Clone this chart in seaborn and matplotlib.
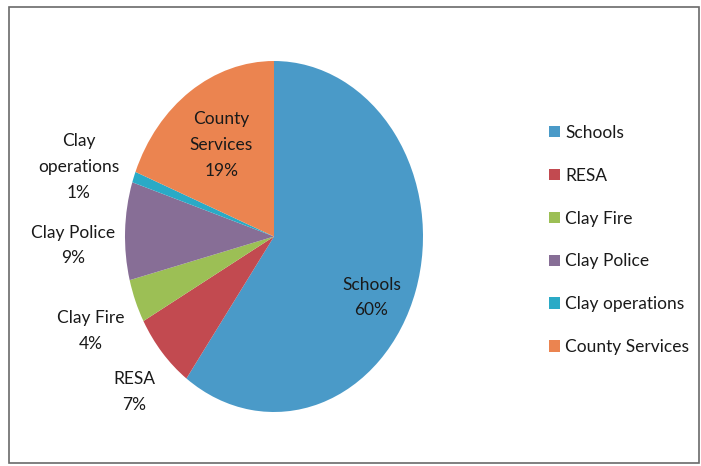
import matplotlib.pyplot as plt
import matplotlib.patches as mpatches
import seaborn as sns
import numpy as np

# data
categories = ["Schools", "RESA", "Clay Fire", "Clay Police", "Clay operations", "County Services"]
shares = [60, 7, 4, 9, 1, 19]
label_texts = ["Schools\n60%", "RESA\n7%", "Clay Fire\n4%", "Clay Police\n9%",
               "Clay\noperations\n1%", "County\nServices\n19%"]
colors = ["#4A9AC8", "#C24A50", "#9CBF55", "#876E96", "#2AAAC6", "#EB8450"]

sns.set_theme(style="white")
plt.rcParams["font.family"] = ["Lato", "DejaVu Sans"]

fig = plt.figure(figsize=(7.01, 4.66), dpi=100)
W, H = 701, 466

# outer chart frame
fig.patches.append(mpatches.Rectangle((9 / W, 3 / H), 690 / W, 456 / H,
                                      transform=fig.transFigure, fill=False,
                                      edgecolor="#6a6a6a", linewidth=1.2))

# pie is slightly squashed horizontally in the scan
ax = fig.add_axes([125 / W, (H - 412) / H, 298 / W, 351 / H])
wedges, _ = ax.pie(shares, colors=sns.color_palette(colors), startangle=90,
                   counterclock=False, wedgeprops=dict(linewidth=0))
ax.set_aspect("auto")
ax.set_xlim(-1, 1)
ax.set_ylim(-1, 1)

# label placement along each wedge's middle angle
dist = [0.74, 1.29, 1.34, 1.35, 1.37, 0.63]
tweak = [-10, 2, 2, 4, 3, 0]
for w, txt, d, t in zip(wedges, label_texts, dist, tweak):
    ang = np.deg2rad((w.theta1 + w.theta2) / 2 + t)
    ax.text(d * np.cos(ang), d * np.sin(ang), txt, ha="center", va="center",
            fontsize=12.5, color="#1a1a1a", linespacing=1.75)

leg = fig.legend(wedges, categories, loc="center left",
                 bbox_to_anchor=(549 / W, (H - 240) / H), frameon=False,
                 fontsize=12.5, handlelength=0.65, handleheight=0.65,
                 handletextpad=0.3, labelspacing=1.55, borderpad=0,
                 borderaxespad=0)
for t in leg.get_texts():
    t.set_color("#1a1a1a")

fig.savefig("out.png", dpi=100)
